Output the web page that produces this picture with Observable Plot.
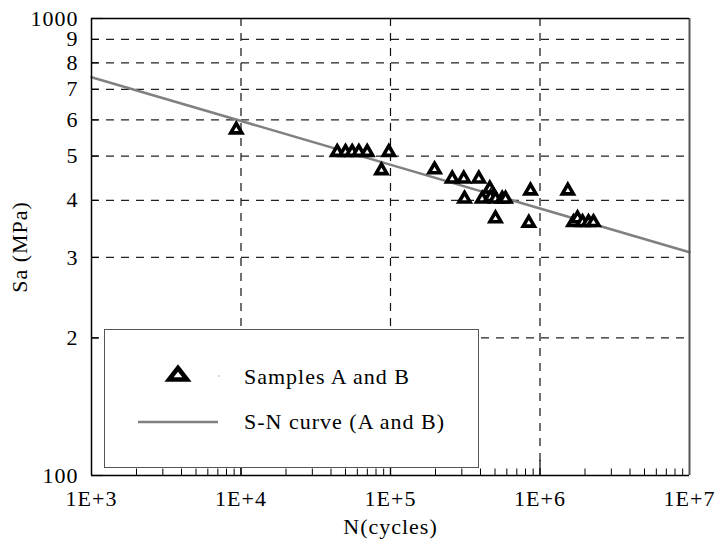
<!DOCTYPE html>
<html><head><meta charset="utf-8">
<script src="https://cdn.jsdelivr.net/npm/d3@7"></script>
<script src="https://cdn.jsdelivr.net/npm/@observablehq/plot@0.6"></script>
<style>
body{margin:0;background:#fff;}
#wrap{position:relative;width:715px;height:543px;}
#wrap, #wrap svg, #wrap text{font-family:"Liberation Serif","DejaVu Serif","Times New Roman",Times,serif !important;}
#wrap text{letter-spacing:1px;}
#legend{position:absolute;left:104px;top:329px;width:375px;height:139px;border:1px solid #555;background:#fff;box-sizing:border-box;}
#legend svg{position:absolute;left:0;top:0;}
</style></head><body><div id="wrap"></div>
<script>
// Data
const cycles = [9300, 44000, 50000, 55400, 61400, 69800, 97400, 87000, 197000, 258700, 309000, 389600, 461600, 312600, 410600, 466600, 503700, 558600, 587800, 503700, 864000, 841500, 1535000, 1675000, 1782000, 1924000, 2109000, 2278000];
const stress = [571, 510, 510, 510, 510, 510, 510, 465, 467, 446, 446, 446, 424, 403, 403, 406, 403, 403, 403, 365, 420, 357, 420, 358, 365, 358, 358, 358];
const curveCycles = [1e3, 1e7];
const curveStress = [744, 308];

const xMajorTicks = [1e3, 1e4, 1e5, 1e6, 1e7];
const xMajorLabels = ["1E+3", "1E+4", "1E+5", "1E+6", "1E+7"];
const xMinorTicks = [2e3,3e3,4e3,5e3,6e3,7e3,8e3,9e3, 2e4,3e4,4e4,5e4,6e4,7e4,8e4,9e4, 2e5,3e5,4e5,5e5,6e5,7e5,8e5,9e5, 2e6,3e6,4e6,5e6,6e6,7e6,8e6,9e6];
const xGridTicks = [1e4, 1e5, 1e6];
const yTicks = [100, 200, 300, 400, 500, 600, 700, 800, 900, 1000];
const yTickLabels = ["100", "2", "3", "4", "5", "6", "7", "8", "9", "1000"];
const yGridTicks = [200, 300, 400, 500, 600, 700, 800, 900];
const seriesLabels = ["Samples A and B", "S-N curve (A and B)"];

const points = cycles.map((n, i) => ({n, s: stress[i]}));
const curve = curveCycles.map((n, i) => ({n, s: curveStress[i]}));
const xLab = new Map(xMajorTicks.map((d, i) => [d, xMajorLabels[i]]));
const yLab = new Map(yTicks.map((d, i) => [d, yTickLabels[i]]));

const serif = '"Liberation Serif","DejaVu Serif","Times New Roman",Times,serif';

const plot = Plot.plot({
  width: 715, height: 543,
  marginLeft: 91, marginRight: 26, marginTop: 18, marginBottom: 68,
  style: {fontFamily: serif, fontSize: "22px", background: "#fff", color: "#000", overflow: "visible"},
  x: {type: "log", domain: [1e3, 1e7]},
  y: {type: "log", domain: [100, 1000]},
  marks: [
    Plot.gridX(xGridTicks, {stroke: "#111", strokeOpacity: 1, strokeWidth: 1.2, strokeDasharray: "8,7"}),
    Plot.gridY(yGridTicks, {stroke: "#222", strokeOpacity: 1, strokeWidth: 1.2, strokeDasharray: "8,7"}),
    Plot.line(curve, {x: "n", y: "s", stroke: "#808080", strokeWidth: 2.5}),
    Plot.dot(points, {x: "n", y: "s", symbol: "triangle", r: 4.1, stroke: "#000", strokeWidth: 3.6, fill: "#fff", strokeLinejoin: "miter"}),
    Plot.ruleX([1e3], {stroke: "#000", strokeWidth: 1.5}),
    Plot.ruleX([1e7], {stroke: "#555", strokeWidth: 2}),
    Plot.ruleY([1000], {stroke: "#000", strokeWidth: 1.5}),
    Plot.ruleY([100], {stroke: "#000", strokeWidth: 1.5}),
    // inward ticks
    Plot.axisY(yTicks.slice(1, -1), {anchor: "left", tickSize: -7.5, text: null, label: null, strokeWidth: 1.2}),
    Plot.axisY([100, 1000], {anchor: "left", tickSize: -12, text: null, label: null, strokeWidth: 1.2}),
    Plot.axisX(xMinorTicks, {anchor: "bottom", tickSize: -6.5, text: null, label: null, strokeWidth: 1}),
    Plot.axisX(xGridTicks, {anchor: "bottom", tickSize: -15, text: null, label: null, strokeWidth: 1.2}),
    // labels
    Plot.axisY(yTicks, {anchor: "left", tickSize: 0, tickPadding: 13, tickFormat: d => yLab.get(d), label: "Sa (MPa)", labelAnchor: "center", labelOffset: 80, labelArrow: "none", fontSize: 22, fontFamily: serif}),
    Plot.axisX(xMajorTicks, {anchor: "bottom", tickSize: 0, tickPadding: 15, tickFormat: d => xLab.get(d), label: "N(cycles)", labelAnchor: "center", labelOffset: 58, labelArrow: "none", fontSize: 22, fontFamily: serif})
  ]
});

const wrap = document.getElementById("wrap");
wrap.appendChild(plot);

// Legend box drawn over the plot area
const leg = document.createElement("div");
leg.id = "legend";
leg.innerHTML = `<svg width="375" height="139" font-size="22">
  <path d="M64,49.5 L82,49.5 L73,38 Z" fill="#fff" stroke="#000" stroke-width="4.5" stroke-linejoin="miter"/>
  <rect x="113.5" y="45.5" width="1" height="1" fill="#666"/>
  <text x="139" y="54">${seriesLabels[0]}</text>
  <line x1="33" x2="113" y1="92" y2="92" stroke="#808080" stroke-width="2.7"/>
  <text x="139" y="99">${seriesLabels[1]}</text>
</svg>`;
wrap.appendChild(leg);
</script>
</body></html>
